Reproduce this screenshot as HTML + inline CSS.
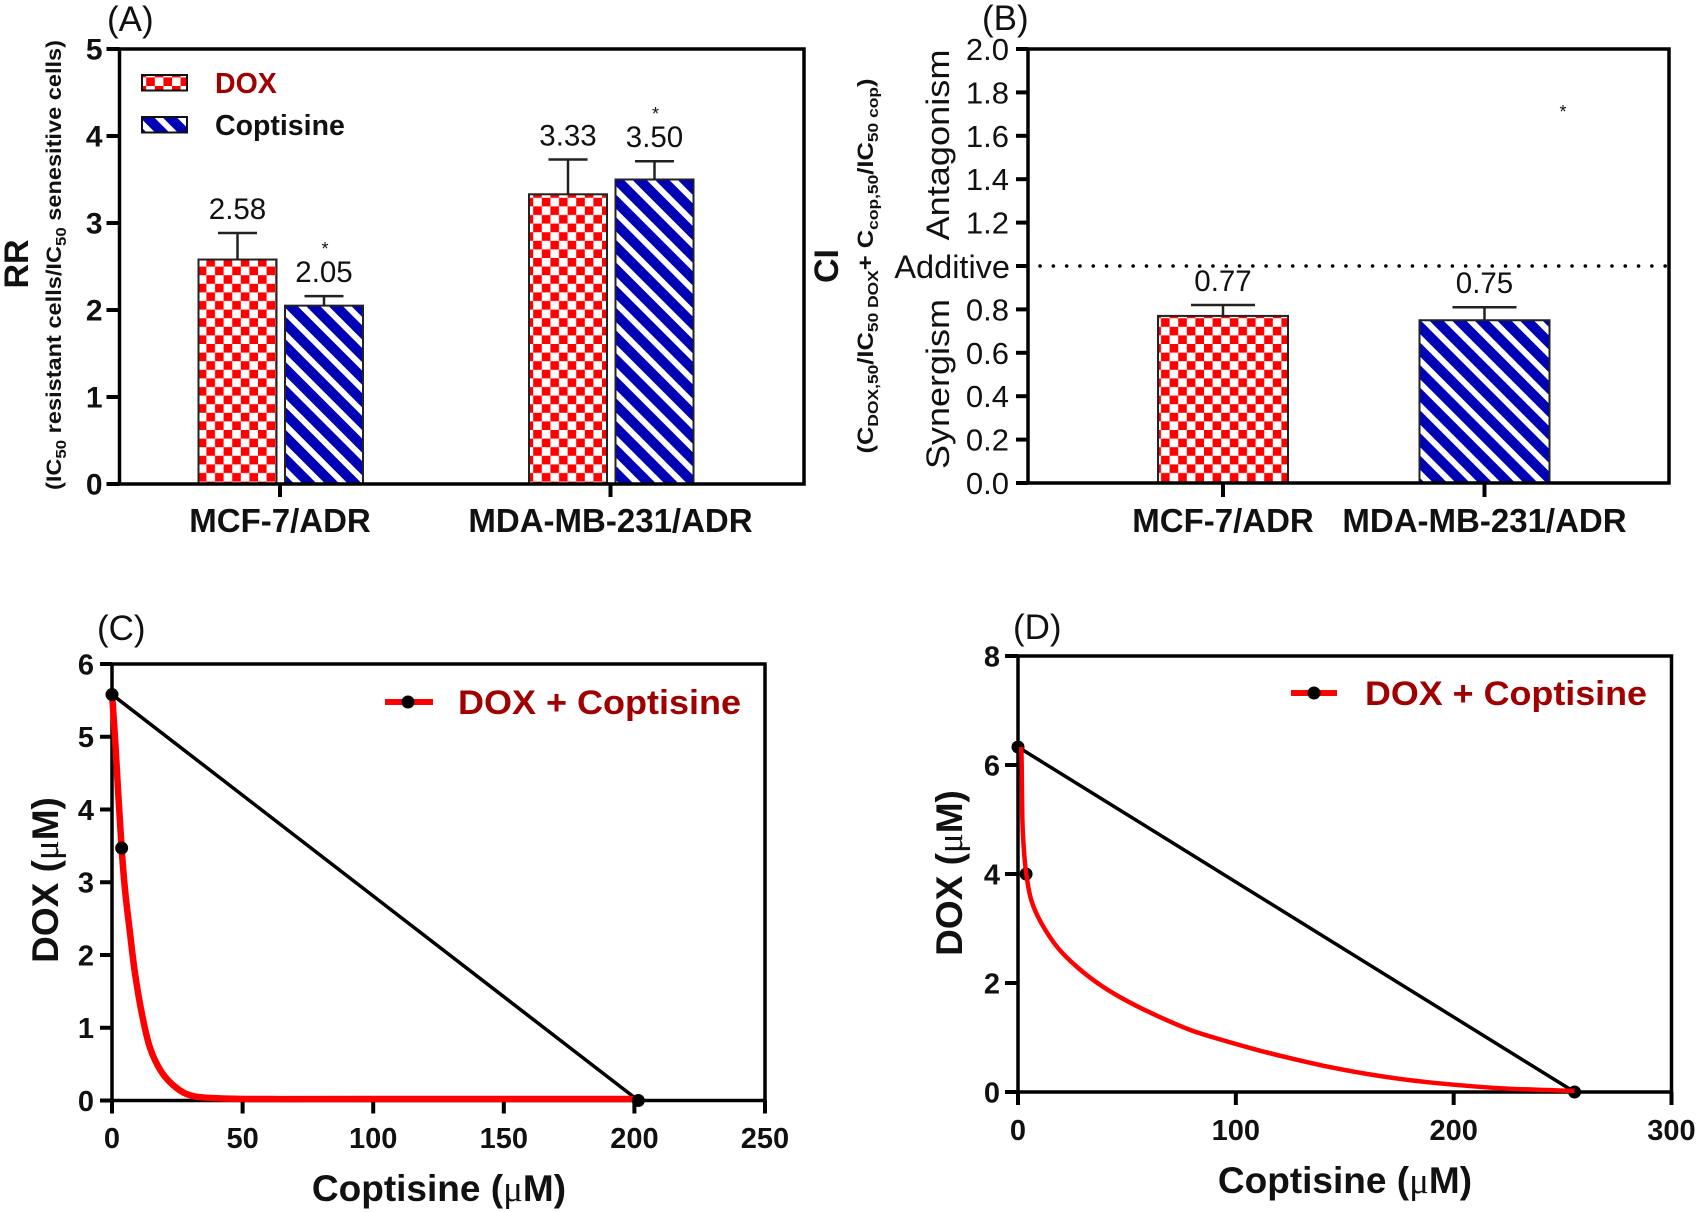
<!DOCTYPE html>
<html lang="en">
<head>
<meta charset="utf-8">
<title>DOX and Coptisine combination charts</title>
<style>
html,body{margin:0;padding:0;background:#fff}
svg{display:block}
text{font-family:"Liberation Sans",sans-serif;fill:#111}
.b{font-weight:700}
.mu{font-family:"Liberation Serif",serif;font-weight:400}
</style>
</head>
<body>
<svg id="fig" xmlns="http://www.w3.org/2000/svg" width="1699" height="1212" viewBox="0 0 1699 1212">
<defs>
<pattern id="checker" patternUnits="userSpaceOnUse" width="17.2" height="17.2">
<rect width="17.2" height="17.2" fill="#fff"/>
<rect width="8.6" height="8.6" fill="#f00"/>
<rect x="8.6" y="8.6" width="8.6" height="8.6" fill="#f00"/>
</pattern>
<pattern id="stripes" patternUnits="userSpaceOnUse" width="16" height="16" patternTransform="rotate(-45)">
<rect width="16" height="16" fill="#fff"/>
<rect width="10" height="16" fill="#0000b4"/>
</pattern>
</defs>

<text x="107" y="31" font-size="35">(A)</text>
<text x="982" y="30" font-size="35">(B)</text>
<text x="97" y="640" font-size="35">(C)</text>
<text x="1013" y="639" font-size="35">(D)</text>

<text class="b" transform="translate(28 264) rotate(-90)" text-anchor="middle" font-size="34">RR</text>
<text class="b" transform="translate(61 265) rotate(-90)" text-anchor="middle" font-size="21" textLength="450" lengthAdjust="spacingAndGlyphs">(IC<tspan font-size="15" dy="5">50</tspan><tspan dy="-5"> resistant cells/IC</tspan><tspan font-size="15" dy="5">50</tspan><tspan dy="-5"> senesitive cells)</tspan></text>

<text class="b" transform="translate(838 266) rotate(-90)" text-anchor="middle" font-size="34">CI</text>
<text class="b" transform="translate(873 266) rotate(-90)" text-anchor="middle" font-size="22" textLength="375" lengthAdjust="spacingAndGlyphs">(C<tspan font-size="15" dy="5">DOX,50</tspan><tspan dy="-5">/IC</tspan><tspan font-size="15" dy="5">50 DOX</tspan><tspan dy="-5">+ C</tspan><tspan font-size="15" dy="5">cop,50</tspan><tspan dy="-5">/IC</tspan><tspan font-size="15" dy="5">50 cop</tspan><tspan dy="-5">)</tspan></text>
<text transform="translate(949 145) rotate(-90)" text-anchor="middle" font-size="32" textLength="191" lengthAdjust="spacingAndGlyphs">Antagonism</text>
<text transform="translate(949 384) rotate(-90)" text-anchor="middle" font-size="32" textLength="170" lengthAdjust="spacingAndGlyphs">Synergism</text>
<text x="1010" y="278" text-anchor="end" font-size="32.5">Additive</text>

<text class="b" transform="translate(58 880) rotate(-90)" text-anchor="middle" font-size="37">DOX (<tspan class="mu">μ</tspan>M)</text>
<text class="b" x="439" y="1201" text-anchor="middle" font-size="37">Coptisine (<tspan class="mu">μ</tspan>M)</text>
<text class="b" transform="translate(962 873) rotate(-90)" text-anchor="middle" font-size="37">DOX (<tspan class="mu">μ</tspan>M)</text>
<text class="b" x="1345" y="1193" text-anchor="middle" font-size="37">Coptisine (<tspan class="mu">μ</tspan>M)</text>

<g>
<rect x="142" y="75" width="45" height="15.5" fill="url(#checker)" stroke="#111" stroke-width="2"/>
<text class="b" x="215" y="93" font-size="28.5" style="fill:#a00000">DOX</text>
<rect x="142" y="117" width="45" height="15.5" fill="url(#stripes)" stroke="#111" stroke-width="2"/>
<text class="b" x="215" y="135" font-size="28.5">Coptisine</text>
</g>
<g>
<line x1="385" y1="702" x2="433" y2="702" stroke="#f00" stroke-width="6"/>
<circle cx="408" cy="702" r="6.5" fill="#000"/>
<text class="b" x="458" y="714" font-size="34" textLength="283" lengthAdjust="spacingAndGlyphs" style="fill:#a00000">DOX + Coptisine</text>
</g>
<g>
<line x1="1291" y1="693" x2="1337" y2="693" stroke="#f00" stroke-width="6"/>
<circle cx="1314" cy="693" r="6.5" fill="#000"/>
<text class="b" x="1365" y="705" font-size="34" textLength="282" lengthAdjust="spacingAndGlyphs" style="fill:#a00000">DOX + Coptisine</text>
</g>
</svg>

<script>
// Panel A data
const groupsA = ['MCF-7/ADR', 'MDA-MB-231/ADR'];
const rrDox = [2.58, 3.33];
const rrDoxErr = [0.305, 0.40];
const rrCop = [2.05, 3.50];
const rrCopErr = [0.11, 0.21];
const yTicksA = [0, 1, 2, 3, 4, 5];

// Panel B data
const groupsB = ['MCF-7/ADR', 'MDA-MB-231/ADR'];
const ciValues = [0.77, 0.75];
const ciErr = [0.05, 0.06];
const yTicksB = ['0.0', '0.2', '0.4', '0.6', '0.8', '1.0', '1.2', '1.4', '1.6', '1.8', '2.0'];
const additiveLevel = 1.0;

// Panel C data
const xTicksC = [0, 50, 100, 150, 200, 250];
const yTicksC = [0, 1, 2, 3, 4, 5, 6];
const curveCopC = [0, 0.2, 1.3, 2.5, 3.7, 5, 6.9, 8.8, 11.4, 14.5, 19, 24.8, 31.1, 41.3, 60, 100, 201.5];
const curveDoxC = [5.58, 5.5, 4.9, 4.15, 3.46, 2.89, 2.3, 1.75, 1.2, 0.73, 0.39, 0.17, 0.06, 0.03, 0.02, 0.02, 0.02];
const isoCopC = [0, 201.5];
const isoDoxC = [5.58, 0];
const pointCopC = [0, 3.7, 201.5];
const pointDoxC = [5.58, 3.47, 0];

// Panel D data
const xTicksD = [0, 100, 200, 300];
const yTicksD = [0, 2, 4, 6, 8];
const curveCopD = [1.5, 1.7, 2, 2.6, 3.8, 6.1, 10.7, 18.4, 27.5, 38.3, 50.5, 64.3, 79.6, 94.9, 110, 125, 144, 165, 188, 221, 255.5];
const curveDoxD = [6.33, 6, 5, 4.5, 4, 3.52, 3.1, 2.64, 2.28, 1.95, 1.66, 1.39, 1.13, 0.94, 0.77, 0.62, 0.45, 0.30, 0.18, 0.07, 0.02];
const isoCopD = [0, 255.5];
const isoDoxD = [6.33, 0];
const pointCopD = [0, 3.7, 255.5];
const pointDoxD = [6.33, 4, 0];

const NS = 'http://www.w3.org/2000/svg';
const fig = document.getElementById('fig');

function mk(parent, tag, attrs, content) {
  const el = document.createElementNS(NS, tag);
  for (const k in attrs) el.setAttribute(k, attrs[k]);
  if (content !== undefined) el.textContent = content;
  parent.appendChild(el);
  return el;
}

function makeGroup(name) {
  const g = mk(fig, 'g', {});
  
  
  return g;
}

function linear(d0, d1, r0, r1) {
  return function (v) { return r0 + (v - d0) / (d1 - d0) * (r1 - r0); };
}

function drawFrame(g, box, sw) {
  const frame = mk(g, 'rect', { x: box.l, y: box.t, width: box.r - box.l, height: box.b - box.t, fill: 'none', stroke: '#000', 'stroke-width': sw });
  
  
}

function drawYTick(g, box, y, label, cfg) {
  const tick = mk(g, 'line', { x1: box.l - cfg.len, x2: box.l, y1: y, y2: y, stroke: '#000', 'stroke-width': 4 });
  
  
  if (label === null) return;
  const t = mk(g, 'text', { x: box.l - cfg.gap, y: y + cfg.size * 0.355, 'text-anchor': 'end', 'font-size': cfg.size, 'font-weight': cfg.weight }, label);
  
  
}

function drawXTick(g, x, box, label, cfg) {
  const tick = mk(g, 'line', { x1: x, x2: x, y1: box.b, y2: box.b + cfg.len, stroke: '#000', 'stroke-width': 4 });
  
  
  const t = mk(g, 'text', { x: x, y: cfg.labelY, 'text-anchor': 'middle', 'font-size': cfg.size, 'font-weight': 700 }, label);
  
  
}

function drawBar(g, cx, w, value, err, fill, y, capHalf, text, labelName, star) {
  const bar = mk(g, 'rect', { x: cx - w / 2, y: y(value), width: w, height: y(0) - y(value), fill: 'url(#' + fill + ')', stroke: '#222', 'stroke-width': 2 });
  
  
  const top = y(value + err);
  const stem = mk(g, 'line', { x1: cx, x2: cx, y1: y(value), y2: top, stroke: '#222', 'stroke-width': 2.5 });
  
  
  const cap = mk(g, 'line', { x1: cx - capHalf, x2: cx + capHalf, y1: top, y2: top, stroke: '#222', 'stroke-width': 2.5 });
  
  
  const t = mk(g, 'text', { x: cx, y: top - 14, 'text-anchor': 'middle', 'font-size': 29.5 }, text);
  
  
  if (star) {
    const s = mk(g, 'text', { x: cx + 1, y: top - 41, 'text-anchor': 'middle', 'font-size': 18 }, '*');
    
    
  }
}

function smoothPath(xs, ys, sx, sy) {
  const p = xs.map(function (v, i) { return [sx(v), sy(ys[i])]; });
  let d = 'M' + p[0][0] + ' ' + p[0][1];
  for (let i = 0; i < p.length - 1; i++) {
    const a = p[Math.max(i - 1, 0)], b = p[i], c = p[i + 1], e = p[Math.min(i + 2, p.length - 1)];
    const c1x = b[0] + (c[0] - a[0]) / 6, c1y = b[1] + (c[1] - a[1]) / 6;
    const c2x = c[0] - (e[0] - b[0]) / 6, c2y = c[1] - (e[1] - b[1]) / 6;
    d += ' C' + c1x + ' ' + c1y + ' ' + c2x + ' ' + c2y + ' ' + c[0] + ' ' + c[1];
  }
  return d;
}

function drawIsobole(g, cfg) {
  const iso = mk(g, 'line', { x1: cfg.sx(cfg.isoX[0]), y1: cfg.sy(cfg.isoY[0]), x2: cfg.sx(cfg.isoX[1]), y2: cfg.sy(cfg.isoY[1]), stroke: '#000', 'stroke-width': 3.5 });
  
  
  function points() {
    cfg.ptX.forEach(function (v, i) {
      const c = mk(g, 'circle', { cx: cfg.sx(v), cy: cfg.sy(cfg.ptY[i]), r: 6.5, fill: '#000' });
      
      
    });
  }
  function curve() {
    const c = mk(g, 'path', { d: smoothPath(cfg.curveX, cfg.curveY, cfg.sx, cfg.sy), fill: 'none', stroke: '#f00', 'stroke-width': cfg.width, 'stroke-linejoin': 'round' });
    
    
  }
  if (cfg.pointsOnTop) { curve(); points(); } else { points(); curve(); }
}

/* Panel A */
(function () {
  const g = makeGroup('panel-a-rr-bar-chart');
  const box = { l: 119.5, r: 804, t: 49, b: 484 };
  const y = linear(0, 5, box.b, box.t);
  const x = linear(0, 1, 280, 610.5);
  const cfg = { len: 13, gap: 17, size: 30, weight: 700 };
  groupsA.forEach(function (name, i) {
    drawBar(g, x(i) - 42.5, 78, rrDox[i], rrDoxErr[i], 'checker', y, 19.5, rrDox[i].toFixed(2), 'dox-' + i, false);
    drawBar(g, x(i) + 44, 78, rrCop[i], rrCopErr[i], 'stripes', y, 19.5, rrCop[i].toFixed(2), 'coptisine-' + i, true);
    drawXTick(g, x(i), box, name, { len: 13, labelY: 532, size: 33 });
  });
  drawFrame(g, box, 3.5);
  yTicksA.forEach(function (v) { drawYTick(g, box, y(v), String(v), cfg); });
})();

/* Panel B */
(function () {
  const g = makeGroup('panel-b-ci-bar-chart');
  const box = { l: 1028, r: 1669, t: 49, b: 483 };
  const y = linear(0, 2, box.b, box.t);
  const x = linear(0, 1, 1223, 1484.5);
  const cfg = { len: 12, gap: 19, size: 31, weight: 400 };
  const fills = ['checker', 'stripes'];
  groupsB.forEach(function (name, i) {
    drawBar(g, x(i), 130, ciValues[i], ciErr[i], fills[i], y, 32, ciValues[i].toFixed(2), 'ci-' + i, false);
    drawXTick(g, x(i), box, name, { len: 14, labelY: 532, size: 33 });
  });
  const star = mk(g, 'text', { x: 1563, y: 118, 'text-anchor': 'middle', 'font-size': 18 }, '*');
  
  
  const add = mk(g, 'line', { x1: 1040, x2: 1669, y1: y(additiveLevel), y2: y(additiveLevel), stroke: '#000', 'stroke-width': 3.5, 'stroke-dasharray': '0.1 13.2', 'stroke-linecap': 'round' });
  
  
  drawFrame(g, box, 3.5);
  yTicksB.forEach(function (v) { drawYTick(g, box, y(Number(v)), v === '1.0' ? null : v, cfg); });
})();

/* Panel C */
(function () {
  const g = makeGroup('panel-c-isobologram');
  const box = { l: 112, r: 765, t: 664, b: 1100.5 };
  const sx = linear(0, 250, box.l, box.r);
  const sy = linear(0, 6, box.b, box.t);
  drawFrame(g, box, 3.5);
  yTicksC.forEach(function (v) { drawYTick(g, box, sy(v), String(v), { len: 12, gap: 18, size: 29, weight: 700 }); });
  xTicksC.forEach(function (v) { drawXTick(g, sx(v), box, String(v), { len: 13, labelY: 1148, size: 29 }); });
  drawIsobole(g, { sx: sx, sy: sy, isoX: isoCopC, isoY: isoDoxC, ptX: pointCopC, ptY: pointDoxC, curveX: curveCopC, curveY: curveDoxC, width: 6.5, pointsOnTop: true });
})();

/* Panel D */
(function () {
  const g = makeGroup('panel-d-isobologram');
  const box = { l: 1018, r: 1671.5, t: 656, b: 1092 };
  const sx = linear(0, 300, box.l, box.r);
  const sy = linear(0, 8, box.b, box.t);
  drawFrame(g, box, 3.5);
  yTicksD.forEach(function (v) { drawYTick(g, box, sy(v), String(v), { len: 13, gap: 18, size: 29, weight: 700 }); });
  xTicksD.forEach(function (v) { drawXTick(g, sx(v), box, String(v), { len: 13, labelY: 1140, size: 29 }); });
  drawIsobole(g, { sx: sx, sy: sy, isoX: isoCopD, isoY: isoDoxD, ptX: pointCopD, ptY: pointDoxD, curveX: curveCopD, curveY: curveDoxD, width: 4.5, pointsOnTop: false });
})();
</script>
</body>
</html>
